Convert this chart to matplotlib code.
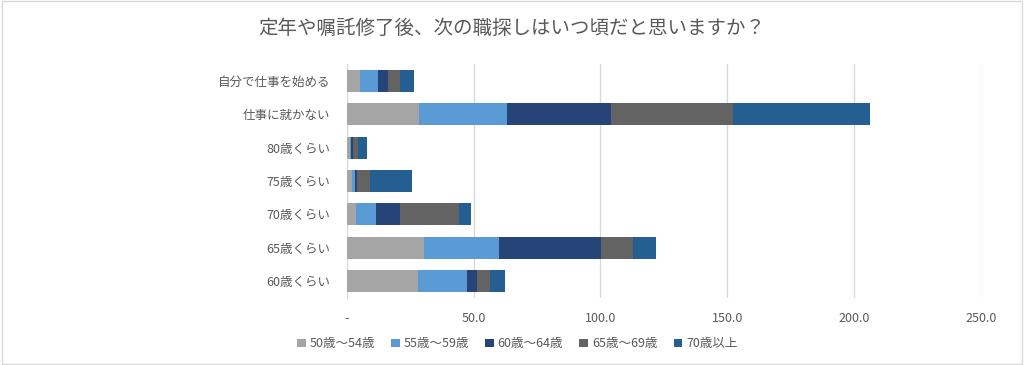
import numpy as np
from matplotlib import pyplot as plt
from matplotlib.patches import Rectangle

plt.rcParams['font.family'] = ['Noto Sans CJK JP', 'DejaVu Sans']

categories = ['60歳くらい', '65歳くらい', '70歳くらい', '75歳くらい', '80歳くらい', '仕事に就かない', '自分で仕事を始める']
series = ['50歳〜54歳', '55歳〜59歳', '60歳〜64歳', '65歳〜69歳', '70歳以上']
age_50_54 = [28.1, 30.4, 3.7, 2.1, 1.3, 28.6, 5.2]
age_55_59 = [19.4, 29.7, 7.9, 1.0, 0.5, 34.4, 7.1]
age_60_64 = [3.8, 40.3, 9.4, 0.8, 0.5, 41.3, 4.1]
age_65_69 = [5.1, 12.3, 23.2, 5.2, 2.0, 48.0, 4.7]
age_70_up = [5.8, 9.1, 4.7, 16.8, 3.8, 53.8, 5.4]
colors = ['#A5A5A5', '#5B9BD5', '#264478', '#636363', '#255E91']
xticks = [0, 50, 100, 150, 200, 250]
xticklabels = ['-', '50.0', '100.0', '150.0', '200.0', '250.0']

fig = plt.figure(figsize=(10.24, 3.65), dpi=100)
ax = fig.add_axes([0.3386, 0.1836, 0.6194, 0.641])

y = np.arange(len(categories))
left = np.zeros(len(categories))
for name, vals, c in zip(series, [age_50_54, age_55_59, age_60_64, age_65_69, age_70_up], colors):
    ax.barh(y, vals, left=left, height=0.66, color=c, label=name, zorder=3)
    left += np.array(vals)

ax.set_xlim(0, 250)
ax.set_ylim(-0.5, len(categories) - 0.5)
ax.set_yticks(y)
ax.set_yticklabels(categories)
ax.set_xticks(xticks)
ax.set_xticklabels(xticklabels)
ax.tick_params(axis='both', length=0, colors='#595959', labelsize=9)
ax.tick_params(axis='x', pad=10)
ax.tick_params(axis='y', pad=12)
ax.grid(axis='x', color='#D9D9D9', linewidth=1, zorder=0)
for s in ['top', 'right', 'bottom']:
    ax.spines[s].set_visible(False)
ax.spines['left'].set_color('#D9D9D9')

fig.text(0.5, 0.922, '定年や嘱託修了後、次の職探しはいつ頃だと思いますか？', ha='center', va='center',
         fontsize=14, color='#595959')

fig.legend(loc='center', bbox_to_anchor=(0.505, 0.058), ncol=5, frameon=False, fontsize=9,
           handlelength=0.7, handleheight=0.7, handletextpad=0.3, columnspacing=1.3,
           labelcolor='#595959')

fig.patches.append(Rectangle((0.002, 0.004), 0.996, 0.992, transform=fig.transFigure,
                             fill=False, edgecolor='#D9D9D9', linewidth=1))

fig.savefig('out.png', dpi=100)
